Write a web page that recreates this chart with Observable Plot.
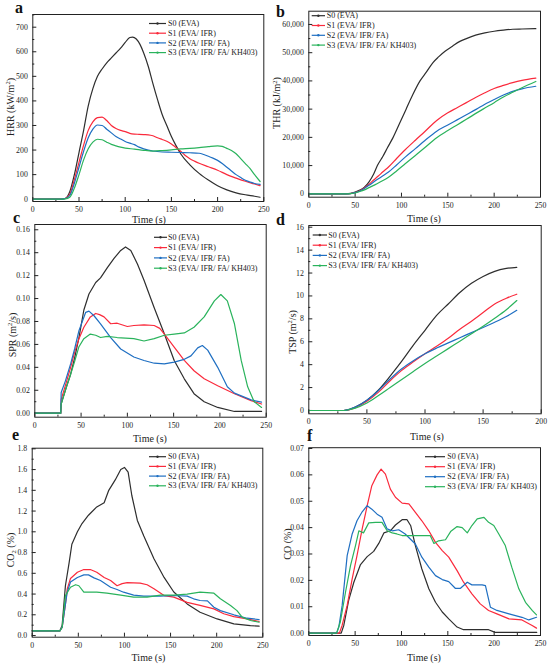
<!DOCTYPE html>
<html><head><meta charset="utf-8">
<script src="https://cdn.jsdelivr.net/npm/d3@7"></script>
<script src="https://cdn.jsdelivr.net/npm/@observablehq/plot@0.6"></script>
<style>
body{margin:0;background:#fff;}
#wrap{position:relative;width:550px;height:666px;overflow:hidden;background:#fff;}
#wrap svg{position:absolute;left:0;top:0;overflow:visible;}
</style></head><body><div id="wrap"></div>
<script>
const seriesNames = ["S0 (EVA)","S1 (EVA/ IFR)","S2 (EVA/ IFR/ FA)","S3 (EVA/ IFR/ FA/ KH403)"];
const seriesColors = ["#2e2e2e","#fa2a3c","#1f6fc2","#2ab35c"];

// (a) HRR
const hrrS0 = [[0,0],[30,0],[35,3],[40,30],[45,100],[50,190],[55,280],[60,380],[65,450],[70,500],[75,530],[80,555],[85,575],[90,595],[95,615],[100,638],[105,658],[108,660],[112,652],[116,630],[120,595],[125,540],[130,470],[135,405],[140,345],[145,300],[150,255],[155,218],[160,185],[170,140],[180,105],[190,78],[200,55],[210,38],[220,26],[230,18],[240,12],[246,8]];
const hrrS1 = [[0,0],[30,0],[35,3],[40,20],[45,80],[50,150],[55,220],[60,280],[65,315],[70,332],[75,334],[80,320],[85,300],[90,288],[95,280],[100,275],[105,268],[110,265],[115,264],[120,263],[125,262],[130,258],[135,250],[140,243],[145,236],[150,225],[155,210],[160,195],[165,178],[170,165],[175,155],[180,146],[190,132],[200,118],[210,100],[220,86],[230,73],[240,62],[246,55]];
const hrrS2 = [[0,0],[30,0],[35,2],[40,15],[45,65],[50,130],[55,195],[60,250],[65,285],[70,302],[75,300],[80,285],[85,270],[90,255],[95,245],[100,235],[105,228],[110,222],[115,212],[120,205],[125,200],[130,196],[140,192],[150,191],[160,190],[170,189],[180,187],[185,182],[190,175],[195,167],[200,158],[205,145],[210,130],[215,115],[220,100],[225,88],[230,77],[235,70],[240,64],[246,60]];
const hrrS3 = [[0,0],[30,0],[35,1],[40,8],[45,45],[50,100],[55,160],[60,205],[65,232],[70,244],[75,242],[80,232],[85,223],[90,217],[95,212],[100,208],[110,204],[120,199],[130,196],[140,198],[150,201],[160,205],[170,207],[180,210],[190,214],[200,217],[205,215],[210,207],[215,198],[220,185],[225,165],[230,145],[235,125],[240,100],[246,72]];

// (b) THR
const thrS0 = [[0,0],[40,0],[45,150],[50,600],[55,1300],[60,2300],[65,4200],[70,7000],[74,10000],[80,13300],[85,16400],[91,20000],[98,25000],[105,30000],[112,35000],[120,40000],[127,43200],[134,46500],[140,48500],[147,50500],[155,52300],[163,54000],[170,55000],[180,56200],[190,57000],[200,57600],[210,58000],[220,58300],[230,58400],[245,58500]];
const thrS1 = [[0,0],[40,0],[45,100],[50,450],[55,1100],[60,2100],[65,3400],[70,4900],[75,6300],[80,7800],[86,9500],[95,12600],[104,15600],[115,19000],[125,22000],[138,26000],[150,28700],[160,30500],[170,32300],[181,34300],[190,35800],[200,37300],[210,38400],[220,39400],[230,40200],[245,41000]];
const thrS2 = [[0,0],[40,0],[45,100],[50,400],[55,1000],[60,1900],[65,3000],[70,4200],[75,5300],[80,6400],[86,7700],[95,10300],[104,13000],[115,16000],[125,18800],[138,22200],[150,24400],[160,26200],[170,28000],[181,30000],[190,31700],[200,33400],[210,35000],[220,36300],[230,37200],[245,38100]];
const thrS3 = [[0,0],[40,0],[45,80],[50,300],[55,800],[60,1400],[65,2200],[70,3000],[75,3800],[80,4700],[86,5900],[95,8200],[104,10650],[115,13600],[125,16300],[138,19900],[150,22400],[160,24400],[170,26400],[188,30000],[200,32300],[210,34300],[220,36000],[230,37600],[245,39800]];

// (c) SPR
const sprS0 = [[0,0],[28,0],[28.5,0.008],[30,0.012],[35,0.025],[38.7,0.034],[43,0.048],[47.7,0.066],[53,0.09],[58.5,0.104],[65.8,0.114],[71,0.118],[78.4,0.127],[85.6,0.135],[92.8,0.142],[98,0.145],[103.7,0.142],[111,0.130],[118,0.116],[129,0.092],[140,0.069],[150.6,0.046],[161.5,0.030],[172,0.017],[183,0.010],[197.6,0.005],[215.7,0.0015],[245,0.0015]];
const sprS1 = [[0,0],[28,0],[28.5,0.012],[33,0.024],[38.7,0.040],[43,0.053],[47.7,0.065],[53,0.075],[60,0.084],[65.8,0.087],[70,0.086],[74.8,0.084],[82,0.078],[89,0.0785],[100,0.0756],[107,0.0765],[118,0.077],[129,0.0765],[135,0.074],[140,0.069],[150.6,0.0576],[161.5,0.046],[172,0.037],[183,0.030],[197.6,0.024],[215.7,0.017],[233.7,0.011],[245,0.008]];
const sprS2 = [[0,0],[28,0],[28.5,0.018],[33,0.028],[38.7,0.043],[43,0.056],[47.7,0.072],[55,0.088],[58.5,0.089],[64,0.085],[71,0.078],[82,0.066],[92.8,0.056],[107,0.049],[118,0.046],[129,0.0436],[140,0.043],[150.6,0.0445],[161.5,0.047],[168.7,0.050],[176,0.057],[181,0.059],[186.8,0.055],[197.6,0.040],[208,0.023],[215.7,0.0175],[233.7,0.0116],[245,0.0096]];
const sprS3 = [[0,0],[28,0],[28.5,0.008],[33,0.02],[38.7,0.034],[43,0.045],[47.7,0.058],[53,0.065],[60,0.069],[65.8,0.068],[71,0.066],[78.4,0.067],[89,0.066],[107,0.065],[118,0.063],[129,0.065],[140,0.068],[150.6,0.069],[161.5,0.070],[172,0.075],[183,0.084],[194,0.098],[201,0.1035],[208,0.098],[215.7,0.078],[223,0.046],[230,0.023],[237,0.010],[245,0.005]];

// (d) TSP
const tspS0 = [[0,0],[30,0],[35,0.1],[40,0.3],[50,0.9],[60,1.8],[70,3.0],[80,4.3],[90,5.7],[100,7.0],[110,8.3],[120,9.3],[130,10.3],[140,11.1],[150,11.7],[160,12.15],[170,12.4],[179,12.5]];
const tspS1 = [[0,0],[30,0],[35,0.08],[40,0.25],[50,0.8],[60,1.6],[70,2.6],[80,3.5],[90,4.25],[100,4.95],[110,5.6],[120,6.3],[130,7.1],[140,7.8],[150,8.55],[160,9.3],[170,9.8],[179,10.15]];
const tspS2 = [[0,0],[30,0],[35,0.1],[40,0.3],[50,0.9],[60,1.75],[70,2.75],[80,3.65],[90,4.35],[100,4.95],[110,5.45],[120,5.9],[130,6.35],[140,6.8],[150,7.25],[160,7.7],[170,8.2],[179,8.75]];
const tspS3 = [[0,0],[30,0],[35,0.07],[40,0.2],[50,0.65],[60,1.3],[70,2.0],[80,2.7],[90,3.4],[100,4.1],[110,4.75],[120,5.4],[130,6.05],[140,6.7],[150,7.35],[160,8.05],[170,8.8],[179,9.6]];

// (e) CO2
const co2S0 = [[0,0.045],[30,0.045],[32.5,0.1],[36,0.48],[40,0.70],[43,0.88],[49,1.0],[54,1.08],[61,1.16],[70,1.24],[78,1.28],[83,1.40],[90,1.5],[96,1.60],[100,1.62],[104,1.575],[108,1.35],[114,1.11],[121,0.96],[132,0.74],[143,0.56],[153.5,0.42],[168,0.305],[182,0.225],[200.5,0.16],[218.6,0.113],[236.6,0.096],[246,0.09]];
const co2S1 = [[0,0.045],[30,0.045],[32.5,0.08],[36,0.3],[38,0.45],[41.5,0.55],[49,0.61],[56,0.636],[63,0.636],[70,0.61],[78,0.56],[85,0.53],[92,0.48],[97.5,0.50],[103,0.51],[117,0.505],[124.6,0.49],[132,0.45],[143,0.385],[153.5,0.37],[168,0.32],[182,0.29],[197,0.257],[207.7,0.21],[218.6,0.183],[233,0.16],[246,0.135]];
const co2S2 = [[0,0.045],[30,0.045],[32.5,0.08],[36,0.3],[38,0.42],[41.5,0.515],[49,0.56],[56,0.585],[61,0.585],[67,0.556],[74,0.53],[85,0.466],[92,0.444],[99,0.418],[110,0.39],[121,0.38],[139,0.38],[153.5,0.386],[168,0.38],[175,0.354],[182,0.338],[190,0.334],[197,0.273],[204,0.24],[218.6,0.2],[233,0.167],[246,0.154]];
const co2S3 = [[0,0.045],[30,0.045],[32.5,0.08],[36,0.385],[41.5,0.466],[47,0.49],[50.6,0.48],[56,0.418],[63,0.418],[70,0.418],[81,0.408],[96,0.39],[110,0.37],[124.6,0.37],[139,0.39],[153.5,0.39],[168,0.4],[182,0.418],[197,0.408],[204,0.354],[215,0.29],[222,0.24],[227.6,0.177],[236.6,0.145],[246,0.128]];

// (f) CO
const coS0 = [[0,0],[35,0],[37.8,0.003],[43,0.0124],[48.6,0.0193],[55.8,0.026],[63,0.029],[70,0.031],[75.5,0.034],[81,0.038],[88,0.0388],[93.5,0.041],[100.7,0.043],[106,0.043],[110,0.0407],[115,0.0332],[122,0.0243],[129.5,0.0168],[136.7,0.0117],[144,0.008],[151,0.0054],[160,0.0023],[167,0.0013],[194,0.0013],[201,0.0003],[246,0.0003]];
const coS1 = [[0,0],[33,0],[36,0.003],[41.4,0.0105],[46.8,0.0206],[52,0.0294],[57.6,0.0395],[63,0.0483],[68,0.0559],[73.7,0.06],[78,0.0622],[82.7,0.0603],[88,0.0546],[93.5,0.0515],[100.7,0.0493],[108,0.049],[115,0.0458],[122,0.0426],[129.5,0.0388],[136.7,0.0344],[144,0.0313],[151,0.0288],[160,0.0237],[167,0.0193],[176,0.0149],[185,0.0111],[194,0.0086],[203,0.0073],[216,0.0054],[230,0.005],[241,0.0029],[245.7,0.0019]];
const coS2 = [[0,0],[30,0],[32.4,0.0023],[36,0.0105],[41.4,0.0294],[46.8,0.0376],[52,0.0426],[57.6,0.046],[63,0.0483],[68,0.047],[73.7,0.0451],[79,0.0439],[84.5,0.0395],[90,0.0388],[97,0.0392],[104,0.0376],[115,0.0338],[122,0.0288],[129.5,0.025],[136.7,0.0218],[144,0.0203],[151,0.0195],[158,0.017],[163.7,0.017],[171,0.0193],[176,0.0183],[187,0.0183],[190.6,0.018],[196,0.0098],[203,0.0086],[216,0.0073],[230,0.006],[237.4,0.005],[245.7,0.006]];
const coS3 = [[0,0],[30,0],[34,0.0042],[39.6,0.0155],[45,0.0256],[50.4,0.0332],[54,0.0388],[59,0.038],[64.7,0.0418],[72,0.042],[79,0.042],[84.5,0.0388],[90,0.038],[95,0.0376],[100.7,0.037],[122,0.037],[131,0.037],[135,0.034],[140,0.035],[147.5,0.0354],[153,0.0385],[160,0.0404],[165.5,0.04],[171,0.038],[176,0.0408],[181.7,0.0433],[189,0.0439],[194,0.042],[199.6,0.0408],[205,0.0376],[212,0.0332],[219,0.025],[226.6,0.0168],[233.8,0.0117],[241,0.0086],[245.7,0.0069]];

// ticks
const timeTicks250 = [0,50,100,150,200,250];
const timeMinor250 = [25,75,125,175,225];
const timeTicks200 = [0,50,100,150,200];
const timeMinor200 = [25,75,125,175];
const hrrTicks = [0,100,200,300,400,500,600,700];
const hrrMinor = [50,150,250,350,450,550,650,750];
const thrTicks = [0,10000,20000,30000,40000,50000,60000];
const thrMinor = [5000,15000,25000,35000,45000,55000];
const sprTicks = [0,0.02,0.04,0.06,0.08,0.10,0.12,0.14,0.16];
const sprMinor = [0.01,0.03,0.05,0.07,0.09,0.11,0.13,0.15];
const tspTicks = [0,2,4,6,8,10,12,14,16];
const tspMinor = [1,3,5,7,9,11,13,15];
const co2Ticks = [0,0.2,0.4,0.6,0.8,1.0,1.2,1.4,1.6,1.8];
const co2Minor = [0.1,0.3,0.5,0.7,0.9,1.1,1.3,1.5,1.7];
const coTicks = [0,0.01,0.02,0.03,0.04,0.05,0.06,0.07];
const coMinor = [0.005,0.015,0.025,0.035,0.045,0.055,0.065];

const panels = [
  {letter:"a", lp:[15,13], data:[hrrS0,hrrS1,hrrS2,hrrS3], fr:[32.3,263.3,14,201], xd:[0,250], yd:[-9.4,751.7],
   xt:timeTicks250, xm:timeMinor250, yt:hrrTicks, ym:hrrMinor, fmt:d3.format("d"), curve:"monotone-x",
   ytitle:[["HRR (kW/m",0],["2",1],[")",0]], ytp:[13.5,107], xtp:[149,223], leg:[149,166,168,23.5,9.7]},
  {letter:"b", lp:[276,16.5], data:[thrS0,thrS1,thrS2,thrS3], fr:[308.3,540,10.7,196.7], xd:[0,250], yd:[-1200,64700],
   xt:timeTicks250, xm:timeMinor250, yt:thrTicks, ym:thrMinor, fmt:d3.format(","), curve:"monotone-x",
   ytitle:[["THR (kJ/m",0],["2",1],[")",0]], ytp:[280,103], xtp:[424,222], leg:[311.7,325,326.7,15.7,9.8]},
  {letter:"c", lp:[13,223], data:[sprS0,sprS1,sprS2,sprS3], fr:[34.3,265.7,224,416.7], xd:[0,250], yd:[-0.0035,0.1646],
   xt:timeTicks250, xm:timeMinor250, yt:sprTicks, ym:sprMinor, fmt:d3.format(".2f"), curve:"linear",
   ytitle:[["SPR (m",0],["2",1],["/s)",0]], ytp:[15.5,335], xtp:[150,442], leg:[154,167,168,237.3,10.3]},
  {letter:"d", lp:[276,225], data:[tspS0,tspS1,tspS2,tspS3], fr:[308.3,540.7,225,413.3], xd:[0,200], yd:[-0.29,16.15],
   xt:timeTicks200, xm:timeMinor200, yt:tspTicks, ym:tspMinor, fmt:d3.format("d"), curve:"monotone-x",
   ytitle:[["TSP (m",0],["2",1],["/s)",0]], ytp:[295.5,332], xtp:[427,440], leg:[312.7,327,328.3,235,10.2]},
  {letter:"e", lp:[12,440], data:[co2S0,co2S1,co2S2,co2S3], fr:[31.7,262.3,447.7,636.7], xd:[0,250], yd:[-0.016,1.806],
   xt:timeTicks250, xm:timeMinor250, yt:co2Ticks, ym:co2Minor, fmt:d3.format(".1f"), curve:"linear",
   ytitle:[["CO",0],["2",-1],[" (%)",0]], ytp:[13.5,550], xtp:[148.5,661], leg:[149,166,168,456.7,9.7]},
  {letter:"f", lp:[307,441], data:[coS0,coS1,coS2,coS3], fr:[308.3,540,447.2,635], xd:[0,250], yd:[-0.0009,0.0703],
   xt:timeTicks250, xm:timeMinor250, yt:coTicks, ym:coMinor, fmt:d3.format(".2f"), curve:"linear",
   ytitle:[["CO (%)",0]], ytp:[290.5,544], xtp:[424,661], leg:[425,445,447.3,456.7,10]}
];

const wrap = document.getElementById("wrap");
const font = "Liberation Serif, Times New Roman, serif";

for (const p of panels) {
  const rows = p.data.flatMap((arr, i) => arr.map(([x, y]) => ({x, y, s: seriesNames[i]})));
  const svg = Plot.plot({
    width: 550, height: 666,
    marginLeft: p.fr[0], marginRight: 550 - p.fr[1], marginTop: p.fr[2], marginBottom: 666 - p.fr[3],
    style: {background: "transparent", fontFamily: font, fontSize: "7.8px", color: "#222", overflow: "visible"},
    x: {domain: p.xd},
    y: {domain: p.yd},
    color: {domain: seriesNames, range: seriesColors},
    marks: [
      Plot.axisX({ticks: p.xt, tickSize: -4, tickPadding: 9, tickFormat: d3.format("d"), label: null}),
      Plot.axisX({ticks: p.xm, tickSize: -2, tickPadding: 0, tickFormat: () => "", label: null}),
      Plot.axisY({ticks: p.yt, tickSize: -4, tickPadding: 9, tickFormat: p.fmt, label: null}),
      Plot.axisY({ticks: p.ym, tickSize: -2, tickPadding: 0, tickFormat: () => "", label: null}),
      Plot.line(rows, {x: "x", y: "y", z: "s", stroke: "s", strokeWidth: 1.2, curve: p.curve}),
      Plot.frame({stroke: "#222", strokeWidth: 1})
    ]
  });
  const s = d3.select(svg);
  // panel letter
  s.append("text").attr("x", p.lp[0]).attr("y", p.lp[1]).attr("text-anchor", "start")
    .attr("font-family", font).attr("font-weight", "bold").attr("font-size", 16).attr("fill", "#111").text(p.letter);
  // x title
  s.append("text").attr("x", p.xtp[0]).attr("y", p.xtp[1]).attr("text-anchor", "middle")
    .attr("font-family", font).attr("font-size", 10).attr("fill", "#222").text("Time (s)");
  // y title
  const yt = s.append("text").attr("transform", `translate(${p.ytp[0]},${p.ytp[1]}) rotate(-90)`)
    .attr("text-anchor", "middle").attr("font-family", font).attr("font-size", 10).attr("fill", "#222");
  let shift = 0;
  for (const [t, k] of p.ytitle) {
    const ts = yt.append("tspan").text(t);
    const target = k === 1 ? -3.5 : k === -1 ? 2.5 : 0;
    if (target !== shift) { ts.attr("dy", target - shift); shift = target; }
    if (k !== 0) ts.attr("font-size", 6.5);
  }
  // legend
  const [x0, x1, tx, y0, dy] = p.leg;
  seriesNames.forEach((n, i) => {
    const y = y0 + i * dy;
    s.append("line").attr("x1", x0).attr("x2", x1).attr("y1", y).attr("y2", y)
      .attr("stroke", seriesColors[i]).attr("stroke-width", 1.2);
    s.append("circle").attr("cx", (x0 + x1) / 2).attr("cy", y).attr("r", 1.2).attr("fill", seriesColors[i]);
    s.append("text").attr("x", tx).attr("y", y).attr("dy", "0.33em").attr("text-anchor", "start")
      .attr("font-family", font).attr("font-size", 8).attr("fill", "#222").text(n);
  });
  wrap.appendChild(svg);
}
</script></body></html>
